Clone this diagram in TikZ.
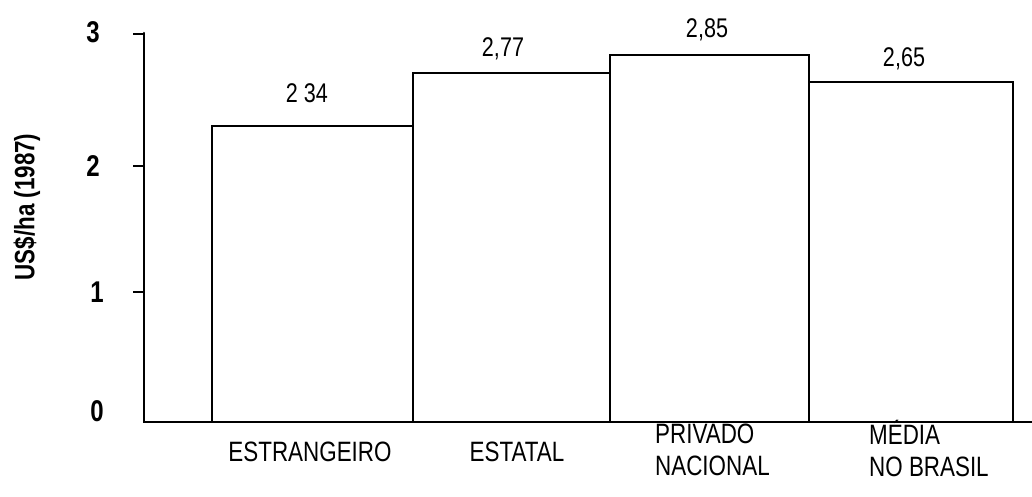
\documentclass[tikz,border=0pt]{standalone}
\usepackage{fontspec}
\setmainfont{Liberation Sans}[FakeStretch=0.8]
\begin{document}
\begin{tikzpicture}[x=1pt,y=-1pt,
  axisline/.style={line width=2.5pt,line cap=round},
  barline/.style={line width=1.8pt},
  ticklab/.style={font=\fontsize{30}{32}\selectfont\bfseries},
  vallab/.style={font=\fontsize{27}{29}\selectfont},
  catlab/.style={font=\fontsize{28}{32}\selectfont, align=left, inner sep=0pt}]
\useasboundingbox (0,0) rectangle (1032,497);
% axes
\coordinate (top) at (144,33);
\coordinate (origin) at (144,422);
\coordinate (xend) at (1032,422);
\draw[axisline] (top) -- (origin) -- (xend);
\draw[line width=1.8pt] (133,34) -- (144,34);
\draw[line width=1.8pt] (133,166) -- (144,166);
\draw[line width=1.8pt] (133,292) -- (144,292);
% tick labels
\node[ticklab] (t3) at (93,32) {3};
\node[ticklab] (t2) at (93,166) {2};
\node[ticklab] (t1) at (97,292) {1};
\node[ticklab] (t0) at (97,411) {0};
\node[rotate=90, font=\fontsize{28}{30}\selectfont\bfseries] (ylab) at (27,207) {US\$/ha (1987)};
% bars
\draw[barline] (212,422) rectangle (413,126);
\draw[barline] (413,422) rectangle (610,73);
\draw[barline] (610,422) rectangle (809,55);
\draw[barline] (809,422) rectangle (1013,82);
% value labels
\node[vallab] (v1) at (307,93) {2 34};
\node[vallab] (v2) at (503,49) {2,77};
\node[vallab] (v3) at (707,30) {2,85};
\node[vallab] (v4) at (904,59) {2,65};
% category labels
\node[catlab] (c1) at (310,452) {ESTRANGEIRO};
\node[catlab] (c2) at (517,452) {ESTATAL};
\node[catlab, anchor=west] (c3) at (655,450) {PRIVADO\\NACIONAL};
\node[catlab, anchor=west] (c4) at (869,448) {MÉDIA\\NO BRASIL};
\end{tikzpicture}
\end{document}
